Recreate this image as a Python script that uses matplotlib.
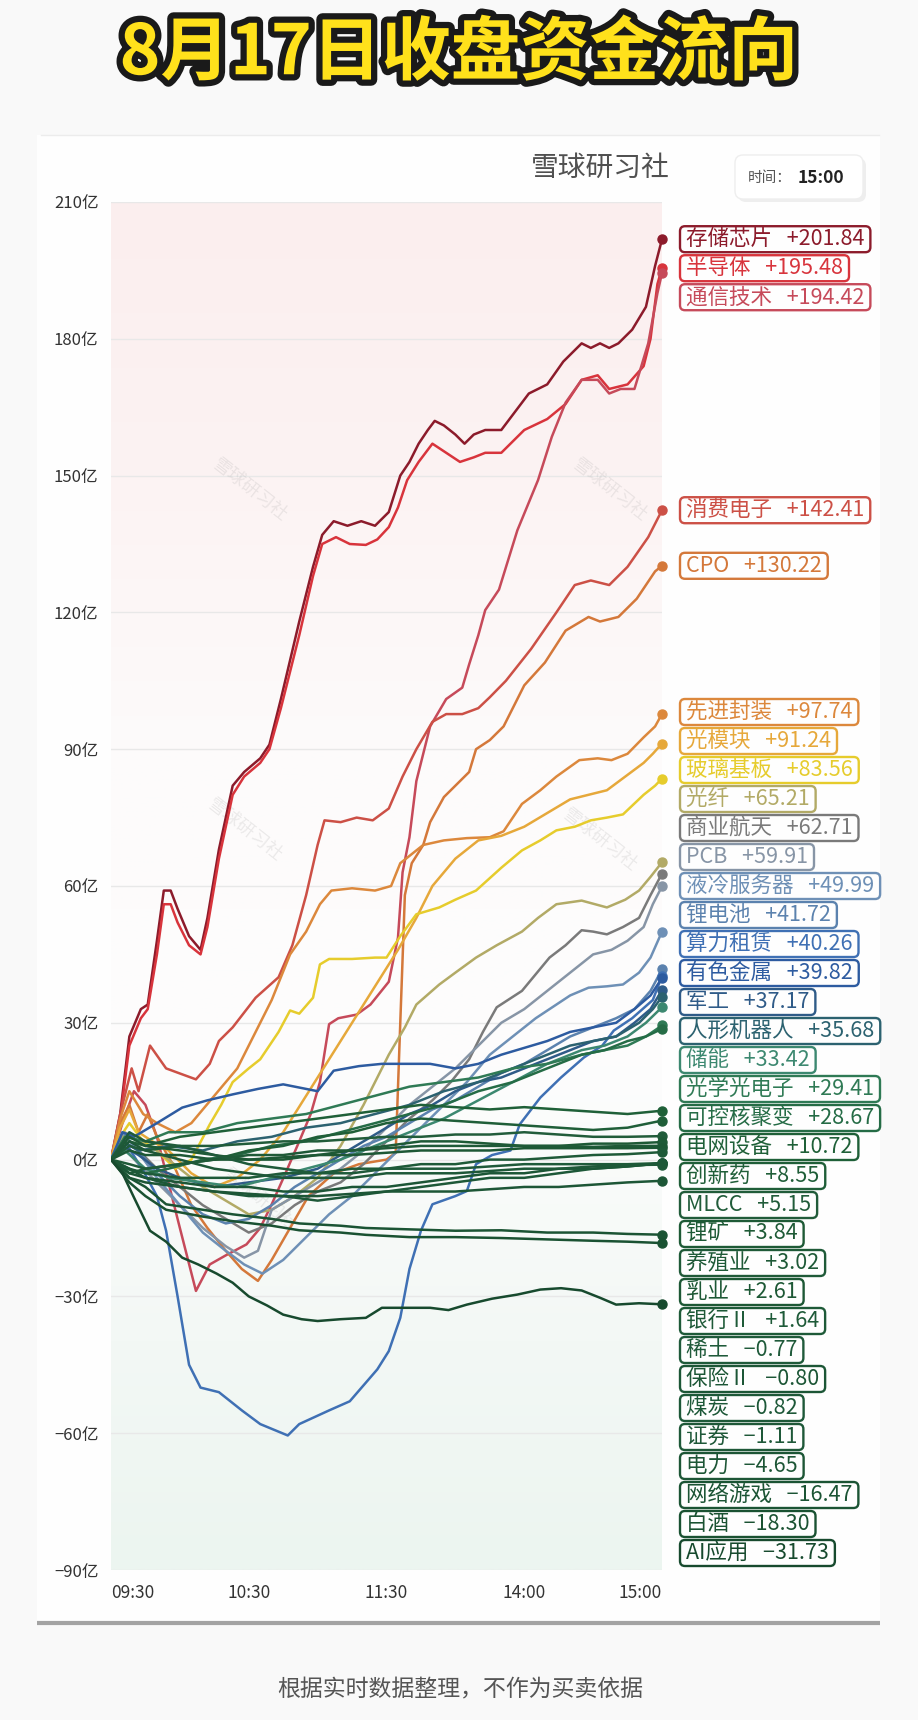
import numpy as np
import matplotlib
matplotlib.use('Agg')
import matplotlib.pyplot as plt
import matplotlib.patheffects as pe
from matplotlib.patches import FancyBboxPatch, Rectangle
from matplotlib.transforms import IdentityTransform

plt.rcParams['font.family'] = ['Noto Sans CJK SC', 'DejaVu Sans']

W, H = 918, 1720

# ---- data (亿元, minutes since 09:30 on the 240-min trading clock) ----
tick_minutes = [0, 60, 120, 180, 240]
tick_labels = ['09:30', '10:30', '11:30', '14:00', '15:00']
y_ticks = [-90, -60, -30, 0, 30, 60, 90, 120, 150, 180, 210]

t_cunchu = [0,4,8,13,16,20,23,26,29,34,39,42,47,53,58,65,69,74,82,88,92,97,103,109,115,121,126,130,134,138,
            141,145,150,154,158,163,170,176,182,190,197,205,209,213,217,221,227,233,237,240]
v_cunchu = [0,10,27,33,34,48,59,59,55,49,46,53,68,82,85,88,91,101,118,130,137,140,139,140,139,142,150,153,157,160,
            162,161,159,157,159,160,160,164,168,170,175,179,178,179,178,179,182,187,196,201.84]

t_bandaoti = [0,4,8,13,16,20,23,26,29,34,39,42,47,53,58,65,69,74,82,88,92,98,104,111,116,121,125,129,134,140,
              146,152,158,163,170,180,190,198,205,212,217,225,232,235,238,240]
v_bandaoti = [0,9,25,31,33,45,56,56,52,47,45,51,66,80,84,87,90,99,115,128,135,136.5,135,134.8,136,138.7,143,149,153,157,
              155,153,154,155,155,160,162.4,165.7,171,172,169,170,174,180,192,195.48]

t_tongxin = [0,5,10,15,20,25,30,37,43,50,59,65,70,76,82,87,91,95,99,107,113,121,125,127,130,133,139,146,153,156,
             160,163,169,177,186,192,198,205,212,217,222,228,234,238,240]
v_tongxin = [0,8,15,12,5,-5,-15,-28.8,-23,-21,-18.6,-15,-9.8,-3,4,10,17,29.7,31,31.8,34,39,48.7,63,70.7,83,95,101,103.5,108.6,
             115,120.5,125,138,149,158.5,166,171,171,168,169,169,179,190,194.42]

t_xiaofei = [0,4,9,12,17,24,31,37,43,47,53,63,73,79,85,90,93,100,107,114,121,127,133,140,146,153,160,165,172,183,
             194,202,209,217,225,234,240]
v_xiaofei = [0,10,20,15,25,20,18.7,17.6,21,26,29,35.5,40,47,58,69,74.4,74,75,74.4,77,84,90,96,97.7,97.7,99,101.4,105,112,
             120,126,127,126,130,136.5,142.41]

t_cpo = [0,4,8,12,16,20,28,35,42,50,57,64,70,78,86,97,108,120,124,126,128,131,136,139,145,152,156,159,165,171,
         177,180,189,198,208,213,221,229,237,240]
v_cpo = [0,8,12,6,10,5,-2,-10,-15,-20,-24,-26.6,-22,-15,-8,-3,-1,0,1.5,30,58,65,69,74,79.5,83,85,90,92,95,
         101,104,109,116,119,118,119,123,129,130.22]

t_xianjin = [0,4,8,14,20,28,35,45,55,63,70,78,85,91,96,105,115,122,126,131,136,145,155,165,171,179,187,194,204,212,
             218,225,232,237,240]
v_xianjin = [0,9,15,10,8,6,8,14,20,28,35,45,50,56,59,59.5,59,60,65,67,69,70,70.5,70.7,72,78,81,84,87.6,88,
             87.6,89,92.6,95,97.74]

t_guangmokuai = [0,4,8,12,18,25,35,45,55,65,75,85,95,105,115,125,133,140,150,160,170,180,190,200,208,216,224,232,236,240]
v_guangmokuai = [0,7,11,6,4,2,-3,-6,-4,0,6,14,22,30,38,46,53,60,66,70,71,73,76,79,80,81,84,87,89,91.24]

t_boli = [0,4,8,14,20,28,35,43,48,53,60,65,73,78,82,88,91,95,105,115,120,126,133,143,150,159,170,179,187,194,
          202,209,216,223,232,237,240]
v_boli = [0,5,8,4,2,-2,0,7.7,12,17,20,22,28,32.7,32,35.5,42.8,44,44,44.3,44.3,49,53.8,55.3,57,59,64,67.8,70,72.2,
          73,74.4,75,75.7,80,82,83.56]

t_guangxian = [0,6,12,20,30,40,50,60,70,80,90,100,110,116,121,128,133,143,150,159,168,179,186,194,205,216,224,230,235,240]
v_guangxian = [0,6,4,2,-2,-6,-9,-12,-11,-8,-4,3,12,18,23,29,34,38.4,41,44.3,47,50,53,56,56.8,55.3,57,59,62,65.21]

t_hangtian = [0,5,12,20,30,40,50,60,70,80,90,100,110,120,130,140,148,156,162,168,179,191,198,205,210,216,223,230,235,240]
v_hangtian = [0,4,2,-2,-6,-10,-13,-16,-14,-10,-7,-5,-1,4,9,13,17,22,28,33.4,37,44.3,47,50.3,50,49.4,51,53,58,62.71]

t_pcb = [0,5,12,20,30,40,50,58,64,70,80,90,100,110,120,130,140,150,160,170,180,190,200,210,218,225,232,236,240]
v_pcb = [0,3,-1,-5,-10,-15,-19,-21.5,-20,-11,-8,-5,-2,2,7,12,16,20,25,30,33,37,41,45,46,48,51,56,59.91]

t_yeleng = [0,5,10,20,30,40,50,58,66,75,85,95,105,115,125,135,145,155,165,175,185,194,200,208,216,223,230,235,240]
v_yeleng = [0,6,3,-4,-10,-16,-20,-23,-25,-22,-17,-12,-8,-3,2,7,12,17,23,27,31,34,36,37.7,38,38.4,41,44.3,49.99]

t_lidian = [0,5,12,20,30,40,50,60,70,80,90,100,110,120,130,140,150,160,170,180,190,200,210,220,228,235,240]
v_lidian = [0,4,2,-3,-8,-12,-14,-13,-10,-6,-3,0,3,5,8,11,13,16,19,21,24,27,29,31,33,37,41.72]

t_suanli = [0,6,14,20,24,29,34,39,47,57,65,77,82,95,104,116,121,126,130,135,140,150,155,159,166,174,178,187,196,206,
            214,219,227,236,240]
v_suanli = [0,4,-2.4,-8,-15.6,-30,-45,-50,-51,-55,-58,-60.5,-58,-55,-53,-46,-42,-34.7,-24,-15.6,-9.8,-8,-6.9,-1,1,2,7.7,13.6,18,22.4,
            25,28.3,31,35,40.26]

t_youse = [0,5,10,20,31,42,53,64,75,90,97,108,118,130,139,150,160,170,180,190,200,210,220,228,235,240]
v_youse = [0,6,5,8,11.4,13,14.3,15.5,16.5,15,19.5,20.5,21,21,21,20,21,23,24.5,26,28,29,30,33,36,39.82]

t_jungong = [0,5,12,20,30,45,60,75,90,100,110,120,130,140,150,160,170,180,190,200,210,220,228,235,240]
v_jungong = [0,3,1,-2,-4,-6,-5,-4,-2,1,4,7,10,12,15,17,18,20,22,24,26,27,30,33,37.17]

t_renxing = [0,5,12,25,40,55,70,85,100,115,130,145,160,175,190,200,210,220,230,236,240]
v_renxing = [0,4,2,3,2,4,5,7,8,10,12,15,17,20,23,25,26,27,30,33,35.68]

t_mid = [0,6,15,25,40,55,70,85,100,115,130,145,160,175,190,205,215,225,233,240]
v_chuneng = [0,2,-2,-4,-5,-6,-4,-2,0,3,6,9,13,17,21,24,25,27,30,33.42]
v_guangxue = [0,5,4,6,6,8,9,10,12,14,16,17,18,20,21,23,24,25,27,29.41]
v_hejubian = [0,-2,-3,-2,0,1,3,4,6,8,10,12,15,17,20,23,24,26,27,28.67]

t_flat = [0,8,15,30,45,60,75,90,105,120,135,150,165,180,195,210,225,240]
v_dianwang = [0,4,3,5,6,7,8,9,10,11,12,11.5,11,11.5,11,10.5,10,10.72]
v_chuangxin = [0,-3,-2,-1,0,2,3,5,6,8,9,8.5,8,7.5,7,6.5,7,8.55]
v_mlcc = [0,3,2,3,3,3.5,4,4,4.5,5,5,5.5,5.5,6,5.5,5,5,5.15]
v_likuang = [0,5,3,2,1,0,0,1,2,3,4,4,3.5,3,3,3.5,3.5,3.84]
v_yangzhi = [0,-1,-2,-1,0,1,1,2,2,2.5,3,3,3,3,3,2.8,3,3.02]
v_ruye = [0,2,1,1,0,0,0.5,1,1,1.5,2,2,2,2.5,2.5,2.5,2.5,2.61]
v_yinhang = [0,-2,-3,-4,-4,-4,-3,-3,-2,-2,-1,-1,0,0,0.5,1,1.2,1.64]
v_xitu = [0,6,4,3,1,-1,-2,-3,-3,-2,-2,-2,-1.5,-1,-1,-1,-1,-0.77]
v_baoxian = [0,-3,-4,-5,-6,-6,-7,-7,-6,-6,-5,-4,-3,-3,-2,-2,-1.5,-0.80]
v_meitan = [0,-2,-4,-6,-7,-8,-8,-9,-8,-7,-6,-5,-4,-4,-3,-2,-1.5,-0.82]
v_zhengquan = [0,4,2,0,-2,-3,-4,-4,-4,-3,-3,-3,-2.5,-2,-2,-1.5,-1.2,-1.11]
v_dianli = [0,-4,-5,-6,-7,-7.5,-8,-8,-7.5,-7,-7,-7,-6.5,-6,-6,-5.5,-5,-4.65]

t_low = [0,8,15,24,40,53,70,82,100,111,130,150,170,190,210,225,240]
v_youxi = [0,-4,-6,-9.8,-11,-12,-13,-14,-14.5,-15,-15.3,-15.6,-15.5,-16,-16,-16.3,-16.47]
v_baijiu = [0,-5,-8,-11,-12.5,-13.5,-14.5,-15.5,-16,-16.5,-17,-17,-17.2,-17.5,-17.8,-18,-18.30]

t_ai = [0,5,10,17,24,31,38,46,53,60,68,75,83,90,100,111,118,130,139,147,155,166,177,187,196,205,213,220,230,240]
v_ai = [0,-3,-8.3,-15.6,-18,-21.5,-23,-25,-27,-30,-32,-34,-35,-35.4,-35,-34.7,-32.5,-32.5,-32.5,-33,
        -31.8,-30.5,-29.6,-28.5,-28.2,-28.7,-30.3,-31.8,-31.5,-31.73]

names = ['存储芯片', '半导体', '通信技术', '消费电子', 'CPO', '先进封装', '光模块', '玻璃基板', '光纤', '商业航天',
         'PCB', '液冷服务器', '锂电池', '算力租赁', '有色金属', '军工', '人形机器人', '储能', '光学光电子', '可控核聚变',
         '电网设备', '创新药', 'MLCC', '锂矿', '养殖业', '乳业', '银行Ⅱ', '稀土', '保险Ⅱ', '煤炭',
         '证券', '电力', '网络游戏', '白酒', 'AI应用']
colors = ['#8c1b2b', '#d8343c', '#c64a5a', '#cc5046', '#d4783a', '#dc883c', '#e6a83a', '#e6cc2c', '#b2aa66', '#7a7a7a',
          '#8795a6', '#6e90b6', '#5b82ae', '#3f70b4', '#2d5ba0', '#2f5b88', '#2c6270', '#3c8870', '#2f7a55', '#256c46',
          '#1f6038', '#1f5e38', '#215c3a', '#1e5a36', '#1f5a38', '#1d5835', '#1e5a38', '#1f5a3a', '#1c5636', '#1d5838',
          '#1e5838', '#1d5636', '#1b5434', '#1a5232', '#174a2e']
series_t = [t_cunchu, t_bandaoti, t_tongxin, t_xiaofei, t_cpo, t_xianjin, t_guangmokuai, t_boli, t_guangxian, t_hangtian,
            t_pcb, t_yeleng, t_lidian, t_suanli, t_youse, t_jungong, t_renxing, t_mid, t_mid, t_mid,
            t_flat, t_flat, t_flat, t_flat, t_flat, t_flat, t_flat, t_flat, t_flat, t_flat,
            t_flat, t_flat, t_low, t_low, t_ai]
series_v = [v_cunchu, v_bandaoti, v_tongxin, v_xiaofei, v_cpo, v_xianjin, v_guangmokuai, v_boli, v_guangxian, v_hangtian,
            v_pcb, v_yeleng, v_lidian, v_suanli, v_youse, v_jungong, v_renxing, v_chuneng, v_guangxue, v_hejubian,
            v_dianwang, v_chuangxin, v_mlcc, v_likuang, v_yangzhi, v_ruye, v_yinhang, v_xitu, v_baoxian, v_meitan,
            v_zhengquan, v_dianli, v_youxi, v_baijiu, v_ai]


def fmt(v):
    return f'{v:+.2f}'.replace('-', '−')


fig = plt.figure(figsize=(W / 100, H / 100), dpi=100)
fig.patch.set_facecolor('#f9f9f9')

# page-level overlay in pixel units
bg = fig.add_axes([0, 0, 1, 1], zorder=0)
bg.set_xlim(0, W)
bg.set_ylim(H, 0)
bg.axis('off')
bg.add_patch(Rectangle((37, 135), 843, 1488, facecolor='#fefefe', edgecolor='none'))
bg.plot([41, 879], [135, 135], color='#ececec', lw=1)
bg.plot([37, 880], [1623, 1623], color='#a3a3a3', lw=3, solid_capstyle='butt')

bg.text(459, 54, '8月17日收盘资金流向', fontsize=50, fontweight='bold', color='#FFE11B',
        ha='center', va='center',
        path_effects=[pe.withStroke(linewidth=9, foreground='#1a1a1a')])
bg.text(600, 168, '雪球研习社', fontsize=20, color='#505050', ha='center', va='center')

bg.add_patch(FancyBboxPatch((738, 158), 128, 44, boxstyle='round,pad=0,rounding_size=8',
                            facecolor='#e4e4e4', edgecolor='none', alpha=0.6))
bg.add_patch(FancyBboxPatch((735, 155), 128, 44, boxstyle='round,pad=0,rounding_size=8',
                            facecolor='white', edgecolor='#eeeeee', lw=1))
bg.text(748, 178, '时间：', fontsize=10.5, color='#555555', ha='left', va='center')
bg.text(798, 178, '15:00', fontsize=12.5, fontweight='bold', color='#222222', ha='left', va='center')

bg.text(460, 1690, '根据实时数据整理，不作为买卖依据', fontsize=16.5, color='#555555', ha='center', va='center')

# main chart
ax = fig.add_axes([111 / W, (H - 1570) / H, 551 / W, 1368 / H], zorder=1)
ax.patch.set_alpha(0)

grad_vals = [-90, -40, 20, 90, 150, 210]
grad_rgb = np.array([[236, 245, 240], [243, 248, 245], [253, 253, 253],
                     [253, 251, 251], [252, 243, 243], [251, 238, 238]]) / 255.0
yy = np.linspace(210, -90, 300)
img = np.stack([np.interp(yy, grad_vals, grad_rgb[:, k]) for k in range(3)], axis=-1)[:, None, :]
ax.imshow(img, extent=[0, 240, -90, 210], aspect='auto', zorder=0, interpolation='bilinear')

for wx, wy in [(250, 490), (610, 490), (245, 830), (600, 840), (260, 1200)]:
    ax.text(wx, wy, '雪球研习社', transform=bg.transData, rotation=-38, fontsize=13,
            color='#9a9a9a', alpha=0.18, ha='center', va='center', zorder=1)

for t, v, c in zip(series_t, series_v, colors):
    ax.plot(t, v, color=c, lw=1.8, zorder=2, solid_joinstyle='round')
    ax.plot([t[-1]], [v[-1]], 'o', color=c, ms=6.5, zorder=3, clip_on=False)

ax.set_xlim(0, 240)
ax.set_ylim(-90, 210)
ax.set_yticks(y_ticks)
ax.set_yticklabels([f'{v}亿'.replace('-', '−') for v in y_ticks], fontsize=12, color='#333333')
ax.set_xticks(tick_minutes)
ax.set_xticklabels(tick_labels, fontsize=12.5, color='#333333')
ax.tick_params(length=0)
ax.tick_params(axis='y', pad=9)
ax.tick_params(axis='x', pad=10)
xl = ax.get_xticklabels()
xl[0].set_ha('left')
xl[-1].set_ha('right')
ax.yaxis.grid(True, color='#e8e8e8', lw=1)
ax.set_axisbelow(True)
for s in ax.spines.values():
    s.set_visible(False)

# end labels, pushed apart so they do not overlap
finals = [v[-1] for v in series_v]
px_per = 1368 / 300.0
gap = 29 / px_per
order = list(np.argsort(finals)[::-1])
pos = {}
prev = None
for i in order:
    p = finals[i]
    if prev is not None and p > prev - gap:
        p = prev - gap
    pos[i] = p
    prev = p
low = -90 + 17 / px_per
for i in order[::-1]:
    pos[i] = max(pos[i], low)
    low = pos[i] + gap

renderer = fig.canvas.get_renderer()
for i in order:
    yd = ax.transData.transform((0, pos[i]))[1]
    txt = fig.text(686 / W, yd / H, f'{names[i]}   {fmt(finals[i])}', fontsize=15.5,
                   color=colors[i], ha='left', va='center', zorder=6)
    ext = txt.get_window_extent(renderer)
    box = FancyBboxPatch((ext.x0 - 6, yd - 13), ext.width + 12, 26,
                         boxstyle='round,pad=0,rounding_size=5', transform=IdentityTransform(),
                         facecolor=(1, 1, 1, 0.9), edgecolor=colors[i], lw=1.7, zorder=5)
    fig.add_artist(box)

fig.savefig('out.png', dpi=100, facecolor=fig.get_facecolor())
